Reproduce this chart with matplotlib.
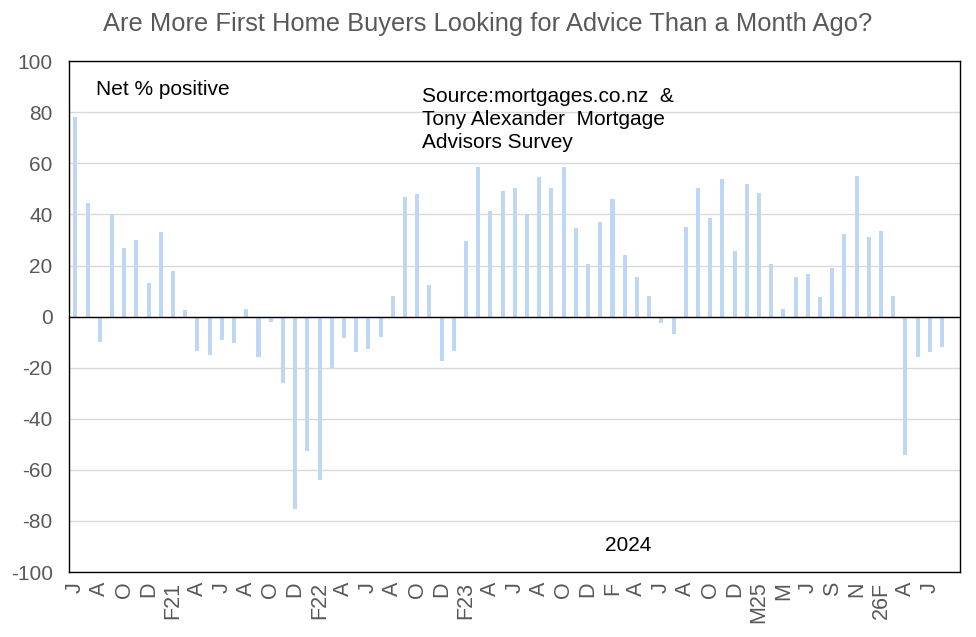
import matplotlib.pyplot as plt
import numpy as np

plt.rcParams['font.family'] = ['Liberation Sans', 'DejaVu Sans']
plt.rcParams['axes.unicode_minus'] = False

# Net % of mortgage advisors seeing more first home buyers, monthly from June 2020
values = [
    78, 44.5, -10, 40, 27, 30, 13, 33, 18, 2.5,
    -13.5, -15, -9, -10.5, 3, -16, -2, -26, -75.5, -52.5,
    -64, -20, -8.5, -14, -12.5, -8, 8, 47, 48, 12.5,
    -17.5, -13.5, 29.5, 58.5, 41.5, 49, 50.5, 40, 54.5, 50.5,
    58.5, 34.5, 20.5, 37, 46, 24, 15.5, 8, -2.5, -7,
    35, 50.5, 38.5, 54, 25.5, 52, 48.5, 20.5, 3, 15.5,
    16.5, 7.5, 19, 32.5, 55, 31, 33.5, 8, -54, -16,
    -14, -12, np.nan,
]

tick_labels = [
    'J', '', 'A', '', 'O', '', 'D', '', 'F21', '',
    'A', '', 'J', '', 'A', '', 'O', '', 'D', '',
    'F22', '', 'A', '', 'J', '', 'A', '', 'O', '',
    'D', '', 'F23', '', 'A', '', 'J', '', 'A', '',
    'O', '', 'D', '', 'F', '', 'A', '', 'J', '',
    'A', '', 'O', '', 'D', '', 'M25', '', 'M', '',
    'J', '', 'S', '', 'N', '', '26F', '', 'A', '',
    'J', '', '',
]

x = np.arange(len(values))

fig = plt.figure(figsize=(9.76, 6.37), dpi=100)
ax = fig.add_axes([0.071, 0.102, 0.913, 0.802])

ax.bar(x, values, width=0.33, color='#BDD7F4', zorder=2)

ax.set_xlim(-0.5, len(values) - 0.5)
ax.set_ylim(-100, 100)
ax.set_yticks(np.arange(-100, 101, 20))
ax.yaxis.grid(True, color='#D9D9D9', linewidth=1, zorder=0)
ax.axhline(0, color='black', linewidth=1, zorder=3)

ax.set_xticks(x)
ax.set_xticklabels(tick_labels, rotation=90, fontsize=15.5, color='#595959')
ax.tick_params(axis='y', labelsize=15, labelcolor='#595959', length=0, pad=12)
ax.tick_params(axis='x', length=0, pad=7)

for s in ax.spines.values():
    s.set_color('black')
    s.set_linewidth(1)

fig.text(0.5, 0.962, 'Are More First Home Buyers Looking for Advice Than a Month Ago?',
         ha='center', va='center', fontsize=18.4, color='#595959')

ax.text(0.03, 0.945, 'Net % positive', transform=ax.transAxes,
        ha='left', va='center', fontsize=15, color='black')
ax.text(0.396, 0.95, 'Source:mortgages.co.nz  &\nTony Alexander  Mortgage\nAdvisors Survey',
        transform=ax.transAxes, ha='left', va='top', fontsize=15,
        color='black', linespacing=1.28)
ax.text(0.601, 0.052, '2024', transform=ax.transAxes,
        ha='left', va='center', fontsize=15, color='black')

fig.savefig('out.png', dpi=100)
